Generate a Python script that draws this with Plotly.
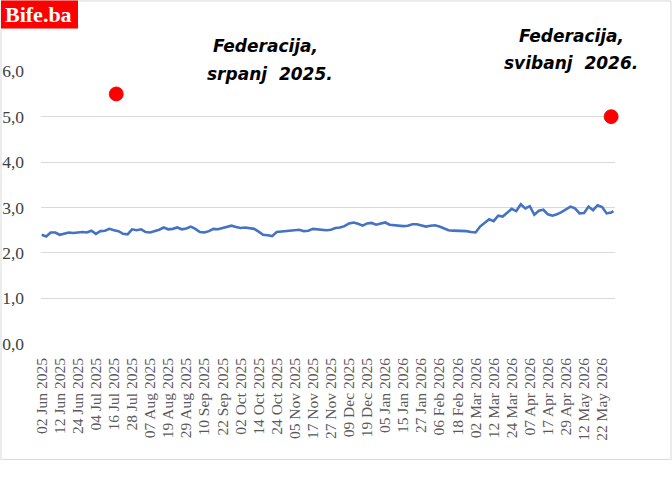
import pandas as pd
import plotly.graph_objects as go

# Trading calendar (business days without TARGET holidays)
start_date = "2025-06-02"
end_date = "2026-05-29"
holidays = ["2025-12-25", "2025-12-26", "2026-01-01", "2026-04-03", "2026-04-06", "2026-05-01"]

# Values read every second trading day (plus the last day)
values = [
    2.40, 2.36, 2.45, 2.45, 2.40, 2.42, 2.45, 2.44, 2.45, 2.46,
    2.45, 2.49, 2.42, 2.48, 2.49, 2.53, 2.50, 2.48, 2.42, 2.41,
    2.52, 2.50, 2.52, 2.46, 2.45, 2.48, 2.51, 2.56, 2.52, 2.53,
    2.56, 2.52, 2.54, 2.58, 2.53, 2.46, 2.45, 2.48, 2.53, 2.52,
    2.55, 2.58, 2.60, 2.57, 2.55, 2.56, 2.55, 2.53, 2.47, 2.40,
    2.39, 2.37, 2.46, 2.47, 2.47, 2.49, 2.50, 2.51, 2.48, 2.49,
    2.53, 2.52, 2.51, 2.50, 2.51, 2.55, 2.56, 2.59, 2.65, 2.67,
    2.64, 2.60, 2.65, 2.66, 2.62, 2.64, 2.67, 2.62, 2.61, 2.60,
    2.59, 2.60, 2.63, 2.63, 2.60, 2.58, 2.60, 2.61, 2.58, 2.54,
    2.50, 2.49, 2.49, 2.49, 2.48, 2.46, 2.45, 2.58, 2.66, 2.74,
    2.70, 2.82, 2.80, 2.89, 2.97, 2.92, 3.07, 2.98, 3.03, 2.84,
    2.93, 2.95, 2.85, 2.82, 2.85, 2.90, 2.97, 3.02, 2.98, 2.87,
    2.88, 3.02, 2.94, 3.05, 3.01, 2.87, 2.89, 2.92,
]

tick_labels = [
    "02 Jun 2025", "12 Jun 2025", "24 Jun 2025", "04 Jul 2025", "16 Jul 2025",
    "28 Jul 2025", "07 Aug 2025", "19 Aug 2025", "29 Aug 2025", "10 Sep 2025",
    "22 Sep 2025", "02 Oct 2025", "14 Oct 2025", "24 Oct 2025", "05 Nov 2025",
    "17 Nov 2025", "27 Nov 2025", "09 Dec 2025", "19 Dec 2025", "05 Jan 2026",
    "15 Jan 2026", "27 Jan 2026", "06 Feb 2026", "18 Feb 2026", "02 Mar 2026",
    "12 Mar 2026", "24 Mar 2026", "07 Apr 2026", "17 Apr 2026", "29 Apr 2026",
    "12 May 2026", "22 May 2026",
]

marker_dates = ["2025-07-17", "2026-05-28"]
marker_values = [5.5, 5.0]

days = pd.bdate_range(start_date, end_date, freq="C", holidays=holidays)
pos = {d.strftime("%Y-%m-%d"): i for i, d in enumerate(days)}
n = len(days)
sample_idx = list(range(0, n, 2))
if sample_idx[-1] != n - 1:
    sample_idx.append(n - 1)
sample_idx = sample_idx[: len(values)]

label_pos = [pos[pd.to_datetime(t, format="%d %b %Y").strftime("%Y-%m-%d")] for t in tick_labels]
marker_pos = [pos[d] for d in marker_dates]

fig = go.Figure()
fig.add_trace(go.Scatter(
    x=sample_idx, y=values, mode="lines",
    line=dict(color="#4472C4", width=2.6), hoverinfo="skip", showlegend=False,
))
fig.add_trace(go.Scatter(
    x=marker_pos, y=marker_values, mode="markers", cliponaxis=False,
    marker=dict(color="#FF0000", size=14, line=dict(color="#E00000", width=0.8)),
    showlegend=False,
))

L, R, T, B = 41, 57, 70.7, 153.7
W = 672 - L - R
H = 498 - T - B

def px_x(x):
    return (x - L) / W

def px_y(y):
    return (498 - B - y) / H

# outer chart frame
fig.add_shape(type="rect", xref="paper", yref="paper",
              x0=px_x(1), x1=px_x(671), y0=px_y(460), y1=px_y(0.5),
              line=dict(color="#D9D9D9", width=1), fillcolor="rgba(0,0,0,0)", layer="below")
# logo box
fig.add_shape(type="rect", xref="paper", yref="paper",
              x0=px_x(1), x1=px_x(78), y0=px_y(28), y1=px_y(0),
              line=dict(width=0), fillcolor="#FF0000", layer="above")
fig.add_annotation(xref="paper", yref="paper", x=px_x(38), y=px_y(14),
                   text="<b>Bife.ba</b>", showarrow=False,
                   font=dict(family="Liberation Serif", size=22, color="white"),
                   xanchor="center", yanchor="middle")

ann_font = dict(family="DejaVu Sans", size=17, color="black")
for txt, cx, cy in [("Federacija,", 265, 46), ("srpanj  2025.", 270, 74),
                    ("Federacija,", 571, 36), ("svibanj  2026.", 571, 63)]:
    fig.add_annotation(xref="paper", yref="paper", x=px_x(cx), y=px_y(cy),
                       text="<b><i>" + txt + "</i></b>", showarrow=False, font=ann_font,
                       xanchor="center", yanchor="middle")

fig.update_layout(
    width=672, height=498,
    margin=dict(l=L, r=R, t=T, b=B),
    paper_bgcolor="white", plot_bgcolor="white",
    separators=", ",
    showlegend=False,
)
fig.update_xaxes(
    range=[-0.3, n - 0.3], tickmode="array", tickvals=label_pos, ticktext=tick_labels,
    tickangle=-90, showgrid=False, zeroline=False, showline=False, automargin=False,
    tickfont=dict(family="Liberation Serif", size=15.5, color="#595959"),
    ticks="", ticklabelstandoff=10,
)
fig.update_yaxes(
    range=[-0.005, 6.005], tickvals=[0, 1, 2, 3, 4, 5, 6], tickformat=".1f",
    showgrid=True, gridcolor="#D9D9D9", gridwidth=1, zeroline=False, showline=False,
    automargin=False,
    tickfont=dict(family="Liberation Serif", size=17.5, color="#404040"),
    ticks="", ticklabelstandoff=16,
)

fig.write_html("out.html")
